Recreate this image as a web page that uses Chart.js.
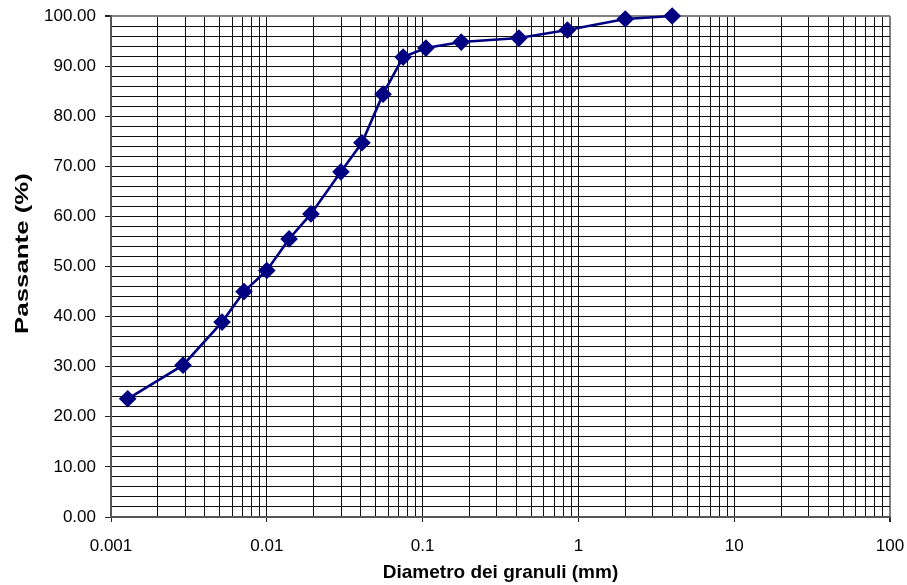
<!DOCTYPE html>
<html><head><meta charset="utf-8">
<script src="https://cdn.jsdelivr.net/npm/chart.js@4.4.1/dist/chart.umd.min.js"></script>
<style>html,body{margin:0;padding:0;background:#fff;}#wrap{width:907px;height:585px;}</style>
</head><body><div id="wrap"><canvas id="c" width="907" height="585"></canvas></div>
<script>
const diameters = [0.00128, 0.0029, 0.00516, 0.00714, 0.0100, 0.0139, 0.0192, 0.0299, 0.0408, 0.0557, 0.075, 0.105, 0.177, 0.415, 0.85, 2.0, 4.0];
const passing = [23.6, 30.3, 38.9, 45.0, 49.2, 55.5, 60.5, 68.9, 74.7, 84.4, 91.8, 93.6, 94.8, 95.6, 97.2, 99.4, 100.0];
const xDecades = [0.001, 0.01, 0.1, 1, 10, 100];
const xDecadeLabels = ['0.001', '0.01', '0.1', '1', '10', '100'];
const yMin = 0, yMax = 100, yGridStep = 2, yLabelStep = 10;
const xTitle = 'Diametro dei granuli (mm)';
const yTitle = 'Passante (%)';

const xGridValues = [];
for (let d = 0; d < xDecades.length - 1; d++) {
  for (let m = 1; m <= 9; m++) xGridValues.push(+(xDecades[d] * m).toPrecision(6));
}
xGridValues.push(xDecades[xDecades.length - 1]);
function isDecade(v){ return xDecades.some(d => Math.abs(d - v) / d < 1e-6); }
const FONT = 'Liberation Sans, Arial, sans-serif';

const yTitlePlugin = {
  id: 'yTitle',
  afterDraw(chart){
    const ctx = chart.ctx, a = chart.chartArea;
    ctx.save();
    ctx.translate(23, (a.top + a.bottom) / 2 - 13);
    ctx.rotate(-Math.PI / 2);
    ctx.scale(1.36, 1);
    ctx.font = 'bold 19px ' + FONT;
    ctx.fillStyle = '#000';
    ctx.textAlign = 'center';
    ctx.textBaseline = 'middle';
    ctx.fillText(yTitle, 0, 0);
    ctx.restore();
  }
};

new Chart(document.getElementById('c'), {
  type: 'line',
  data: { datasets: [{
    data: diameters.map((d, i) => ({x: d, y: passing[i]})),
    borderColor: '#000080', backgroundColor: '#000080',
    borderWidth: 2.6, pointStyle: 'rectRot', pointRadius: 7, pointHoverRadius: 7,
    pointBackgroundColor: '#000080', pointBorderColor: '#000080', tension: 0,
    clip: false
  }]},
  plugins: [yTitlePlugin],
  options: {
    responsive: false, animation: false,
    layout: { padding: { top: 16, right: 17, left: 0, bottom: 0 } },
    plugins: { legend: { display: false }, tooltip: { enabled: false } },
    scales: {
      x: {
        type: 'logarithmic', min: 0.001, max: 100,
        afterBuildTicks(scale){ scale.ticks = xGridValues.map(v => ({value: v, major: isDecade(v)})); },
        afterFit(scale){ scale.height = 68; scale.paddingLeft = 0; scale.paddingRight = 0; },
        ticks: {
          autoSkip: false, maxRotation: 0, padding: 14,
          color: '#000', font: { family: FONT, size: 17 },
          callback(v){ const i = xDecades.findIndex(d => Math.abs(d - v) / d < 1e-6); return i >= 0 ? xDecadeLabels[i] : ''; }
        },
        grid: {
          color: ctx => (ctx.tick && Math.abs(ctx.tick.value - 100) < 1e-6) ? '#808080' : '#111',
          lineWidth: ctx => (ctx.tick && Math.abs(ctx.tick.value - 100) < 1e-6) ? 2 : 1,
          tickLength: 5,
          tickColor: ctx => (ctx.tick && isDecade(ctx.tick.value)) ? '#222' : 'rgba(0,0,0,0)'
        },
        border: { color: '#555', width: 2 },
        title: { display: true, text: xTitle, color: '#000',
          font: { family: FONT, size: 19, weight: 'bold' }, padding: { top: 2, bottom: 1 } }
      },
      y: {
        min: yMin, max: yMax,
        afterFit(scale){ scale.width = 111; scale.paddingTop = 0; scale.paddingBottom = 0; },
        ticks: {
          stepSize: yGridStep, autoSkip: false, padding: 9,
          color: '#000', font: { family: FONT, size: 17 },
          callback(v){ return (Math.round(v) % yLabelStep === 0) ? Number(v).toFixed(2) : ''; }
        },
        grid: {
          color: ctx => (ctx.tick && ctx.tick.value === yMax) ? '#808080' : '#111',
          lineWidth: ctx => (ctx.tick && ctx.tick.value === yMax) ? 2 : 1,
          tickLength: 6,
          tickColor: ctx => (ctx.tick && Math.round(ctx.tick.value) % yLabelStep === 0) ? '#222' : 'rgba(0,0,0,0)'
        },
        border: { color: '#555', width: 2 },
        title: { display: false }
      }
    }
  }
});
</script></body></html>
